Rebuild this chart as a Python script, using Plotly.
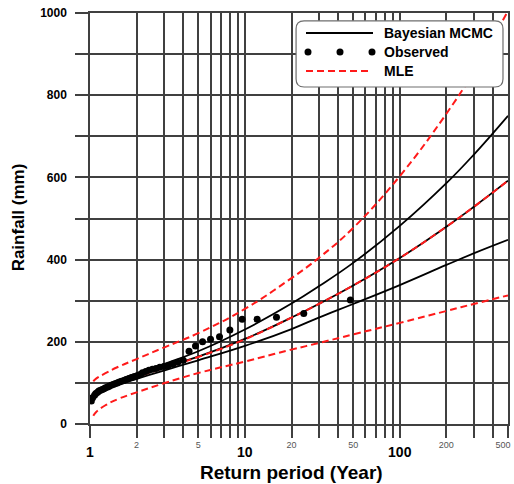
import math
import plotly.graph_objects as go

# Return periods (years) at which the fitted quantile curves are tabulated
T_bayes = [1.02, 1.1, 1.25, 1.5, 2, 3, 5, 10, 20, 30, 50, 100, 200, 300, 500]
bayes_mid = [55, 75, 88, 101, 116, 138, 164, 207, 259, 292, 337, 404, 480, 528, 592]
bayes_upper = [58, 80, 93, 106, 123, 146, 177, 230, 293, 335, 392, 482, 586, 655, 750]
bayes_lower = [52, 70, 82, 95, 110, 130, 155, 190, 231, 259, 292, 338, 387, 415, 448]

T_mle = [1.05, 1.1, 1.25, 1.5, 2, 3, 5, 10, 20, 30, 50, 100, 200, 300, 500]
mle_mid = [66, 74, 87, 100, 115, 136, 163, 206, 259, 292, 337, 404, 480, 528, 592]
mle_upper = [104, 111, 123, 138, 158, 186, 221, 280, 355, 404, 477, 603, 755, 857, 1005]
mle_lower = [20, 30, 45, 60, 77, 99, 124, 152, 181, 197, 218, 246, 275, 292, 313]

# Observed annual maxima with their empirical return periods
T_obs = [48.0, 24.0, 16.0, 12.0, 9.6, 8.0, 6.86, 6.0, 5.33, 4.8, 4.36, 4.0,
         3.69, 3.43, 3.2, 3.0, 2.82, 2.67, 2.53, 2.4, 2.29, 2.18, 2.09, 2.0,
         1.92, 1.85, 1.78, 1.71, 1.66, 1.6, 1.55, 1.5, 1.45, 1.41, 1.37, 1.33,
         1.3, 1.26, 1.23, 1.2, 1.17, 1.14, 1.12, 1.09, 1.07, 1.04, 1.02]
rain_obs = [302, 269, 260, 255, 255, 229, 212, 206, 200, 190, 177, 155,
            150, 146, 142, 140, 138, 135, 133, 131, 128, 125, 120, 117,
            115, 113, 111, 108, 106, 104, 102, 100, 98, 96, 94, 92,
            90, 88, 86, 84, 82, 80, 77, 74, 70, 64, 56]

# Axis ticks
x_grid = [1, 2, 3, 4, 5, 6, 7, 8, 9, 10, 20, 30, 40, 50, 60, 70, 80, 90,
          100, 200, 300, 400, 500]
x_major = [1, 10, 100]
x_minor = [2, 5, 20, 50, 200]
x_edge = [500]
y_grid = [0, 100, 200, 300, 400, 500, 600, 700, 800, 900, 1000]
y_labelled = [0, 200, 400, 600, 800, 1000]

FONT = "Liberation Sans, Arial, sans-serif"
GRID = "#404040"
RED = "#ff1a1a"

fig = go.Figure()

for y in (bayes_upper, bayes_mid, bayes_lower):
    fig.add_trace(go.Scatter(x=T_bayes, y=y, mode="lines",
                             line=dict(color="black", width=1.8, shape="spline",
                                       smoothing=1.2),
                             showlegend=False, hoverinfo="skip"))
for y in (mle_upper, mle_mid, mle_lower):
    fig.add_trace(go.Scatter(x=T_mle, y=y, mode="lines",
                             line=dict(color=RED, width=2, dash="7px,4px",
                                       shape="spline", smoothing=1.2),
                             showlegend=False, hoverinfo="skip"))
fig.add_trace(go.Scatter(x=T_obs, y=rain_obs, mode="markers",
                         marker=dict(color="black", size=7),
                         showlegend=False, hoverinfo="skip"))

xr = [0, math.log10(500) + 1e-6]
minor_axis = dict(
    type="log", range=xr, overlaying="x", side="bottom", automargin=False,
    tickmode="array",
    tickfont=dict(size=9, family=FONT, color="#555555"),
    ticks="outside", ticklen=12, tickcolor="rgba(0,0,0,0)",
    ticklabelstandoff=0, ticklabeloverflow="allow",
    showgrid=False, showline=False, zeroline=False,
)
fig.update_layout(
    width=514, height=484,
    margin=dict(l=90, r=6, t=13, b=60, autoexpand=False),
    paper_bgcolor="white", plot_bgcolor="white",
    font=dict(family=FONT, color="black"),
    xaxis=dict(
        type="log", range=xr, automargin=False,
        tickmode="array", tickvals=x_grid,
        ticktext=[f"<b>{v}</b>" if v in x_major else "" for v in x_grid],
        tickfont=dict(size=14, family=FONT, color="black"),
        ticks="outside", ticklen=12, tickwidth=1.5, tickcolor=GRID,
        ticklabelstandoff=2,
        showgrid=True, gridcolor=GRID, gridwidth=1.5,
        showline=True, linecolor=GRID, linewidth=1.5, mirror=True,
        zeroline=False,
    ),
    # small grey labels for the intermediate ticks
    xaxis2=dict(minor_axis, tickvals=x_minor, ticktext=[str(v) for v in x_minor]),
    # the last label sits on the right edge, nudged inward to stay on the page
    xaxis3=dict(minor_axis, tickvals=x_edge, ticktext=[str(v) for v in x_edge],
                ticklabelshift=-5),
    yaxis=dict(
        range=[0, 1000], automargin=False,
        tickmode="array", tickvals=y_grid,
        ticktext=[f"<b>{v}</b>" if v in y_labelled else "" for v in y_grid],
        tickfont=dict(size=12, family=FONT, color="black"),
        ticks="outside", ticklen=13, tickwidth=1.5, tickcolor=GRID,
        ticklabelstandoff=6,
        showgrid=True, gridcolor=GRID, gridwidth=1.5,
        showline=True, linecolor=GRID, linewidth=1.5, mirror=True,
        zeroline=False,
    ),
    showlegend=False,
)

# invisible traces so the overlay axes carrying the minor labels are drawn
for ax in ("x2", "x3"):
    fig.add_trace(go.Scatter(x=[1], y=[0], xaxis=ax, mode="markers",
                             marker=dict(opacity=0), showlegend=False,
                             hoverinfo="skip"))

# Axis titles
fig.add_annotation(text="<b>Return period (Year)</b>", xref="paper", yref="paper",
                   x=0.483, y=-0.117, xanchor="center", yanchor="middle",
                   showarrow=False, font=dict(size=19, family=FONT))
fig.add_annotation(text="<b>Rainfall (mm)</b>", xref="paper", yref="paper",
                   x=-0.172, y=0.503, xanchor="center", yanchor="middle",
                   textangle=-90, showarrow=False, font=dict(size=17, family=FONT))

# Legend box with rounded corners (plot-area fractions)
x0, x1, y0, y1 = 0.493, 0.988, 0.820, 0.981
rx, ry = 8 / 418, 8 / 411
path = (f"M{x0 + rx},{y1} L{x1 - rx},{y1} Q{x1},{y1} {x1},{y1 - ry} "
        f"L{x1},{y0 + ry} Q{x1},{y0} {x1 - rx},{y0} "
        f"L{x0 + rx},{y0} Q{x0},{y0} {x0},{y0 + ry} "
        f"L{x0},{y1 - ry} Q{x0},{y1} {x0 + rx},{y1} Z")
fig.add_shape(type="path", path=path, xref="x domain", yref="y domain",
              line=dict(color="#6e6e6e", width=1.2), fillcolor="white", layer="above")


def px(xp):
    return (xp - 90) / 418


def py(yp):
    return (424 - yp) / 411


legend_rows = [("Bayesian MCMC", 33), ("Observed", 52), ("MLE", 71)]
fig.add_shape(type="line", xref="x domain", yref="y domain",
              x0=px(306), x1=px(373), y0=py(33), y1=py(33),
              line=dict(color="black", width=1.8), layer="above")
for cx in (308, 340, 372):
    fig.add_shape(type="circle", xref="x domain", yref="y domain",
                  x0=px(cx - 3.5), x1=px(cx + 3.5), y0=py(52 + 3.5), y1=py(52 - 3.5),
                  fillcolor="black", line=dict(color="black", width=0), layer="above")
fig.add_shape(type="line", xref="x domain", yref="y domain",
              x0=px(306), x1=px(372), y0=py(71), y1=py(71),
              line=dict(color=RED, width=2, dash="7px,4px"), layer="above")
for label, yp in legend_rows:
    fig.add_annotation(text=f"<b>{label}</b>", xref="x domain", yref="y domain",
                       x=px(382), y=py(yp), xanchor="left", yanchor="middle",
                       showarrow=False, font=dict(size=14, family=FONT, color="black"))

fig.write_html("out.html")
